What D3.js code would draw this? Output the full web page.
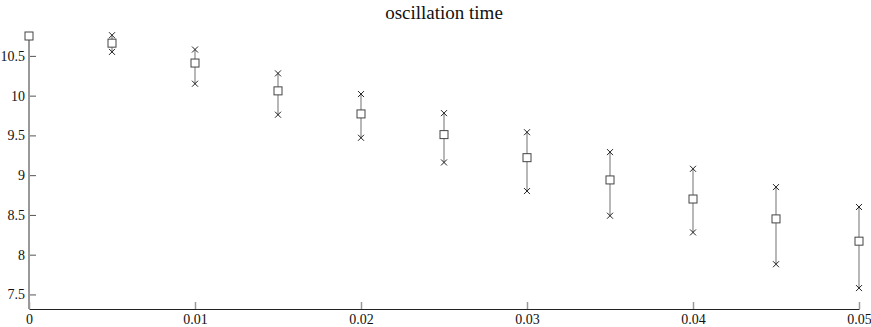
<!DOCTYPE html>
<html>
<head>
<meta charset="utf-8">
<script src="https://cdn.jsdelivr.net/npm/d3@7"></script>
<style>
  html, body { margin: 0; padding: 0; background: #fff; }
  svg { display: block; }
  svg text { font-family: "Liberation Serif", "DejaVu Serif", serif; }
</style>
</head>
<body>
<div id="chart-container"></div>
<script>
const xValues = [0, 0.005, 0.01, 0.015, 0.02, 0.025, 0.03, 0.035, 0.04, 0.045, 0.05];
const meanValues = [10.75, 10.66, 10.41, 10.06, 9.77, 9.51, 9.22, 8.94, 8.70, 8.45, 8.17];
const upperValues = [10.75, 10.76, 10.58, 10.28, 10.02, 9.78, 9.54, 9.29, 9.08, 8.85, 8.60];
const lowerValues = [10.75, 10.55, 10.15, 9.76, 9.47, 9.16, 8.80, 8.49, 8.28, 7.88, 7.58];
const xTicks = [0, 0.01, 0.02, 0.03, 0.04, 0.05];
const yTicks = [7.5, 8, 8.5, 9, 9.5, 10, 10.5];
const title = "oscillation time";

const container = document.getElementById("chart-container");

function errorChart() {
    const width = 871;
    const height = 327;

    const data = xValues.map((x, i) => ({
        x: x, mean: meanValues[i], hi: upperValues[i], lo: lowerValues[i]
    }));

    // scales
    const x = d3.scaleLinear()
        .domain([0, 0.05])
        .range([29, 859]);

    const y = d3.scaleLinear()
        .domain([7.317, 10.75])
        .range([309, 36]);

    const svg = d3.create("svg")
        .attr("width", width)
        .attr("height", height);

    // title
    svg.append("text")
        .attr("x", (x.range()[0] + x.range()[1]) / 2)
        .attr("y", 19)
        .attr("font-size", 19)
        .attr("text-anchor", "middle")
        .attr("fill", "#111")
        .text(title);

    // x axis
    svg.append("g")
        .attr("transform", `translate(0,${y.range()[0]})`)
        .call(d3.axisBottom(x)
            .tickValues(xTicks)
            .tickFormat(d => d === 0 ? "0" : d3.format(".2f")(d))
            .tickSizeInner(-7)
            .tickSizeOuter(0)
            .tickPadding(5))
        .attr("font-family", null)
        .attr("font-size", 14)
        .call(g => g.select(".domain").attr("stroke", "#222"))
        .call(g => g.selectAll(".tick line").attr("stroke", "#999").attr("stroke-width", 1.5))
        .call(g => g.selectAll(".tick text").attr("fill", "#111"));

    // y axis
    svg.append("g")
        .attr("transform", `translate(${x.range()[0]},0)`)
        .call(d3.axisLeft(y)
            .tickValues(yTicks)
            .tickFormat(d3.format("~g"))
            .tickSizeInner(-7)
            .tickSizeOuter(0)
            .tickPadding(4))
        .attr("font-family", null)
        .attr("font-size", 14)
        .call(g => g.select(".domain").remove())
        .call(g => g.selectAll(".tick line").attr("stroke", "#555"))
        .call(g => g.selectAll(".tick text").attr("fill", "#111"));

    svg.append("line")
        .attr("x1", x(0)).attr("x2", x(0))
        .attr("y1", y(y.domain()[1])).attr("y2", y(y.domain()[0]))
        .attr("stroke", "#999")
        .attr("stroke-width", 2);

    // error bars
    svg.append("g")
        .selectAll("line")
        .data(data)
        .join("line")
        .attr("x1", d => x(d.x)).attr("x2", d => x(d.x))
        .attr("y1", d => y(d.hi)).attr("y2", d => y(d.lo))
        .attr("stroke", "#888")
        .attr("stroke-width", 1.2);

    // x markers at upper and lower
    const cross = (cx, cy, r) =>
        `M${cx - r},${cy - r}L${cx + r},${cy + r}M${cx - r},${cy + r}L${cx + r},${cy - r}`;
    const ends = data.flatMap(d => [{x: d.x, v: d.hi}, {x: d.x, v: d.lo}]);
    svg.append("g")
        .selectAll("path")
        .data(ends)
        .join("path")
        .attr("d", d => cross(x(d.x), y(d.v), 3))
        .attr("stroke", "#222")
        .attr("stroke-width", 1)
        .attr("fill", "none");

    // squares at mean
    svg.append("g")
        .selectAll("rect")
        .data(data)
        .join("rect")
        .attr("x", d => x(d.x) - 4)
        .attr("y", d => y(d.mean) - 4)
        .attr("width", 8)
        .attr("height", 8)
        .attr("fill", "#fff")
        .attr("stroke", "#444")
        .attr("stroke-width", 1);

    return svg.node();
}

container.appendChild(errorChart());
</script>
</body>
</html>
